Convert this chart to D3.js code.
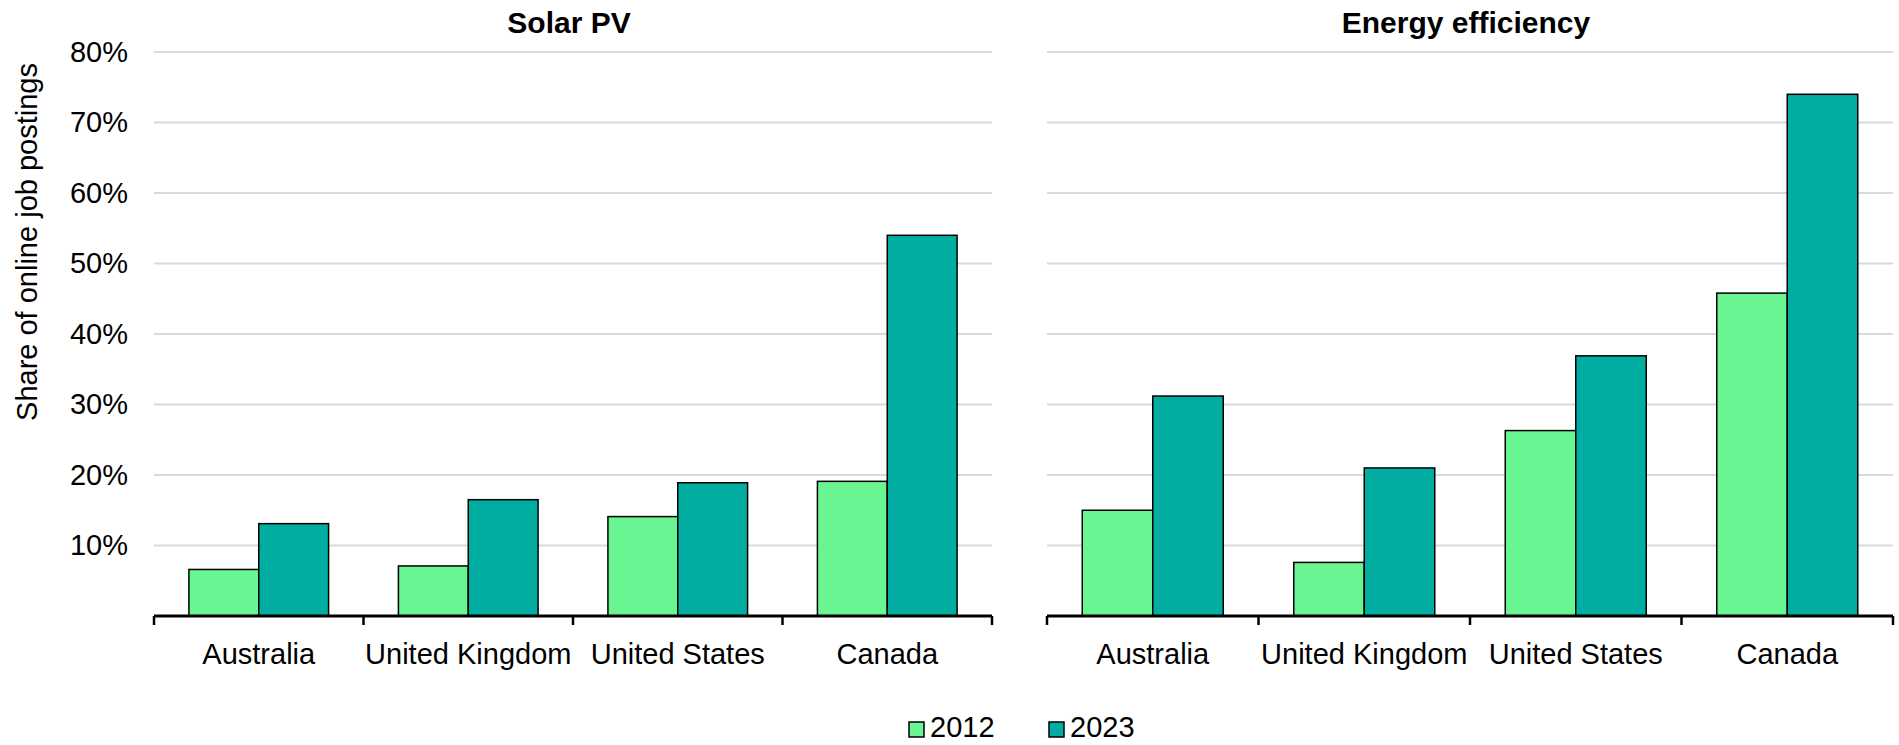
<!DOCTYPE html>
<html>
<head>
<meta charset="utf-8">
<script src="https://cdn.jsdelivr.net/npm/d3@7"></script>
<style>
  html, body { margin: 0; padding: 0; background: #fff; }
  svg { display: block; font-family: "Liberation Sans", Arial, sans-serif; }
</style>
</head>
<body>
<svg id="chart" width="1899" height="745"></svg>
<script>
// ---- data ----
const categories = ["Australia", "United Kingdom", "United States", "Canada"];
const years = ["2012", "2023"];
const panelTitles = ["Solar PV", "Energy efficiency"];
const solar2012 = [6.6, 7.1, 14.1, 19.1];
const solar2023 = [13.1, 16.5, 18.9, 54.0];
const eff2012 = [15.0, 7.6, 26.3, 45.8];
const eff2023 = [31.2, 21.0, 36.9, 74.0];
const yTicks = [10, 20, 30, 40, 50, 60, 70, 80];
const yTickLabels = ["10%", "20%", "30%", "40%", "50%", "60%", "70%", "80%"];
const yAxisTitle = "Share of online job postings";

const colors = { "2012": "#69F591", "2023": "#00ADA0" };

const svg = d3.select("#chart");
const fontSize = 29;

const y = d3.scaleLinear().domain([0, 80]).range([616, 52]);

const panels = [
  { title: panelTitles[0], v2012: solar2012, v2023: solar2023, range: [154, 992], showY: true },
  { title: panelTitles[1], v2012: eff2012, v2023: eff2023, range: [1047, 1893], showY: false }
];

panels.forEach(p => {
  const g = svg.append("g");
  const x = d3.scaleBand().domain(categories).range(p.range).paddingInner(0).paddingOuter(0);
  const xs = d3.scaleBand().domain(years).range([0, x.bandwidth()]).paddingInner(0).paddingOuter(0.5);

  // gridlines
  g.selectAll("line.grid").data(yTicks).join("line")
    .attr("class", "grid")
    .attr("x1", p.range[0]).attr("x2", p.range[1])
    .attr("y1", d => y(d)).attr("y2", d => y(d))
    .attr("stroke", "#d9d9d9").attr("stroke-width", 2);

  // y labels
  if (p.showY) {
    g.selectAll("text.ytick").data(yTicks).join("text")
      .attr("class", "ytick")
      .attr("x", 128).attr("y", d => y(d)).attr("dy", "0.34em")
      .attr("text-anchor", "end").attr("font-size", fontSize).attr("fill", "#000")
      .text((d, i) => yTickLabels[i]);
    svg.append("text")
      .attr("transform", "translate(36.5,242) rotate(-90)")
      .attr("text-anchor", "middle").attr("font-size", fontSize).attr("fill", "#000")
      .text(yAxisTitle);
  }

  // bars
  const rows = [];
  categories.forEach((c, i) => {
    rows.push({ cat: c, year: "2012", v: p.v2012[i] });
    rows.push({ cat: c, year: "2023", v: p.v2023[i] });
  });
  g.selectAll("rect.bar").data(rows).join("rect")
    .attr("class", "bar")
    .attr("x", d => x(d.cat) + xs(d.year))
    .attr("width", xs.bandwidth())
    .attr("y", d => y(d.v))
    .attr("height", d => y(0) - y(d.v))
    .attr("fill", d => colors[d.year])
    .attr("stroke", "#000").attr("stroke-width", 1.5);

  // x axis line and ticks at band boundaries
  g.append("line")
    .attr("x1", p.range[0]).attr("x2", p.range[1])
    .attr("y1", y(0)).attr("y2", y(0))
    .attr("stroke", "#000").attr("stroke-width", 3);
  const bounds = categories.map(c => x(c)).concat([p.range[1]]);
  g.selectAll("line.xtick").data(bounds).join("line")
    .attr("class", "xtick")
    .attr("x1", d => d).attr("x2", d => d)
    .attr("y1", y(0)).attr("y2", y(0) + 9)
    .attr("stroke", "#000").attr("stroke-width", 2.5);

  g.selectAll("text.xlab").data(categories).join("text")
    .attr("class", "xlab")
    .attr("x", d => x(d) + x.bandwidth() / 2).attr("y", 664)
    .attr("text-anchor", "middle").attr("font-size", fontSize).attr("fill", "#000")
    .text(d => d);

  // title
  g.append("text")
    .attr("x", (p.range[0] + p.range[1]) / 2 - 4).attr("y", 33)
    .attr("text-anchor", "middle").attr("font-size", 30).attr("font-weight", "bold").attr("fill", "#000")
    .text(p.title);
});

// legend
const legendX = [909, 1049];
const lg = svg.append("g");
years.forEach((yr, i) => {
  lg.append("rect")
    .attr("x", legendX[i]).attr("y", 722).attr("width", 15).attr("height", 15)
    .attr("fill", colors[yr]).attr("stroke", "#000").attr("stroke-width", 1.5);
  lg.append("text")
    .attr("x", legendX[i] + 21).attr("y", 737)
    .attr("font-size", fontSize).attr("fill", "#000")
    .text(yr);
});
</script>
</body>
</html>
